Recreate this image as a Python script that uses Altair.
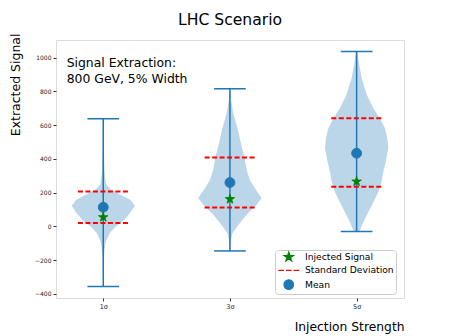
import altair as alt
import pandas as pd

# ---------------- data ----------------
positions = [1, 2, 3]
tick_labels = ["1σ", "3σ", "5σ"]
data_min = [-356, -145, -30]
data_max = [638, 816, 1037]
means = [114, 260, 434]
injected = [55, 162, 266]
std_low = [20, 112, 235]
std_high = [207, 408, 642]

# violin outlines: value along y, relative half-width (1 = widest)
v1_vals = [638, 454, 336, 276, 247, 217, 187, 158, 122, 80, 39, -1, -38, -79, -109, -156, -228, -356]
v1_dens = [0.01, 0.022, 0.04, 0.07, 0.1, 0.25, 0.57, 0.85, 1.0, 0.845, 0.665, 0.395, 0.21, 0.105, 0.063, 0.032, 0.016, 0.006]
v2_vals = [816, 751, 672, 573, 474, 405, 335, 276, 217, 168, 128, 79, 29, -10, -40, -79, -145]
v2_dens = [0.01, 0.032, 0.105, 0.25, 0.37, 0.465, 0.53, 0.63, 0.82, 1.0, 0.845, 0.57, 0.35, 0.19, 0.08, 0.032, 0.01]
v3_vals = [1037, 958, 879, 780, 701, 642, 583, 523, 464, 385, 325, 266, 207, 148, 88, 29, -30]
v3_dens = [0.016, 0.08, 0.16, 0.32, 0.53, 0.73, 0.89, 0.97, 1.0, 0.92, 0.845, 0.79, 0.69, 0.54, 0.38, 0.22, 0.09]

series_names = ["Injected Signal", "Standard Deviation", "Mean"]
series_colors = ["#008000", "#ff0000", "#1f77b4"]
STAR = "M0,-1L0.2245,-0.309L0.951,-0.309L0.363,0.118L0.588,0.809L0,0.382L-0.588,0.809L-0.363,0.118L-0.951,-0.309L-0.2245,-0.309Z"
DASH = "M-2.2,0L-1.0,0M-0.6,0L0.6,0M1.0,0L2.2,0"
CIRCLE = "circle"

# ---------------- tables ----------------
half_width = 0.25
violin_tables = []
for pos, vals, dens in zip(positions, [v1_vals, v2_vals, v3_vals], [v1_dens, v2_dens, v3_dens]):
    t = pd.DataFrame({"yv": vals, "dens": dens})
    t["lo"] = pos - t["dens"] * half_width
    t["hi"] = pos + t["dens"] * half_width
    violin_tables.append(t.sort_values("yv").reset_index(drop=True))

bars_df = pd.DataFrame({"pos": positions, "lo": data_min, "hi": data_max})
caps_df = pd.DataFrame({
    "x1": [p - 0.125 for p in positions] * 2,
    "x2": [p + 0.125 for p in positions] * 2,
    "y": data_min + data_max,
})
std_df = pd.DataFrame({
    "x1": [p - 0.2 for p in positions] * 2,
    "x2": [p + 0.2 for p in positions] * 2,
    "y": std_low + std_high,
})
pts_df = pd.DataFrame({
    "pos": positions * 2,
    "y": means + injected,
    "series": ["Mean"] * 3 + ["Injected Signal"] * 3,
})

# ---------------- scales / axes ----------------
FONT = "DejaVu Sans"
xs = alt.Scale(domain=[0.627, 3.374], nice=False, zero=False)
ys = alt.Scale(domain=[-424, 1105], nice=False, zero=False)

label_list = "[" + ",".join("'" + t + "'" for t in tick_labels) + "]"
x_axis = alt.Axis(
    values=positions, labelExpr=label_list + "[datum.value - 1]",
    grid=False, domain=False, tickSize=3, tickColor="#333333",
    labelFont=FONT, labelFontSize=6.5, labelColor="#222222", labelPadding=2,
    title="Injection Strength", titleFont=FONT, titleFontSize=12.3, titleFontWeight="normal",
    titleColor="black", titleAlign="right", titleBaseline="alphabetic", titleX=348, titleY=32.7,
)
y_axis = alt.Axis(
    values=[-400, -200, 0, 200, 400, 600, 800, 1000], format="d",
    grid=False, domain=False, tickSize=3, tickColor="#333333",
    labelFont=FONT, labelFontSize=6, labelColor="#222222", labelPadding=2,
    title="Extracted Signal", titleFont=FONT, titleFontSize=12.5, titleFontWeight="normal",
    titleColor="black", titleAngle=270, titleAlign="right", titleBaseline="alphabetic",
    titleX=-36.5, titleY=-7,
)


def X(field):
    return alt.X(field, type="quantitative", scale=xs, axis=x_axis)


def Y(field):
    return alt.Y(field, type="quantitative", scale=ys, axis=y_axis)


violins = [
    alt.Chart(t).mark_area(orient="horizontal", color="#1f77b4", fillOpacity=0.3, strokeWidth=0).encode(
        y=Y("yv"), x=X("lo"), x2=alt.X2("hi")
    )
    for t in violin_tables
]
bars = alt.Chart(bars_df).mark_rule(color="#1f77b4", strokeWidth=1.5).encode(
    x=X("pos"), y=Y("lo"), y2="hi"
)
caps = alt.Chart(caps_df).mark_rule(color="#1f77b4", strokeWidth=1.5).encode(
    x=X("x1"), x2="x2", y=Y("y")
)
stds = alt.Chart(std_df).mark_rule(color="#ff0000", strokeWidth=2, strokeDash=[5, 2.5]).encode(
    x=X("x1"), x2="x2", y=Y("y")
)

leg = alt.Legend(
    orient="none", legendX=219, legendY=210, title=None,
    padding=1.5, symbolOffset=6.75, labelOffset=10.75, rowPadding=1.3,
    strokeColor="#cccccc", fillColor="white", cornerRadius=3,
    labelFont=FONT, labelFontSize=9.2, labelColor="black",
    symbolSize=90, symbolStrokeWidth=1.3, symbolOpacity=1,
)
scale_col = alt.Scale(domain=series_names, range=series_colors)
scale_shape = alt.Scale(domain=series_names, range=[STAR, DASH, CIRCLE])

points = alt.Chart(pts_df).mark_point(filled=True, size=100, opacity=1, strokeWidth=0.8).encode(
    x=X("pos"), y=Y("y"),
    fill=alt.Fill("series:N", scale=scale_col, legend=leg),
    stroke=alt.Stroke("series:N", scale=scale_col, legend=leg),
    shape=alt.Shape("series:N", scale=scale_shape, legend=leg),
)

one = pd.DataFrame({"a": [0]})
note = alt.Chart(one).mark_text(
    align="left", baseline="alphabetic", font=FONT, fontSize=12.4, lineHeight=16.7, color="black"
).encode(
    x=alt.value(10.7), y=alt.value(26.7),
    text=alt.value(["Signal Extraction:", "800 GeV, 5% Width"]),
)
title = alt.Chart(one).mark_text(
    align="center", baseline="alphabetic", font=FONT, fontSize=15.6, color="black"
).encode(
    x=alt.value(174), y=alt.value(-15), text=alt.value("LHC Scenario"),
)

chart = alt.layer(*violins, bars, caps, stds, points, note, title).properties(
    width=348, height=258,
    autosize=alt.AutoSizeParams(type="none"),
    padding={"left": 48, "top": 32, "right": 37, "bottom": 38},
).configure_view(stroke="#808080", strokeWidth=1.5).configure(background="white")

chart.save("out.html", embed_options={"renderer": "svg", "actions": False})
